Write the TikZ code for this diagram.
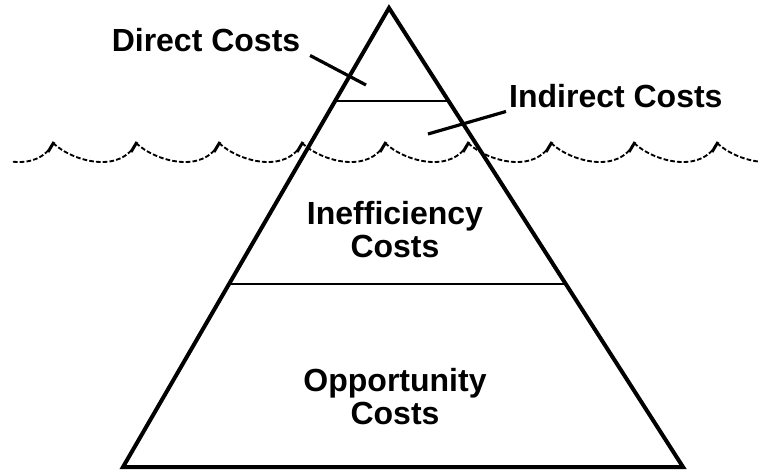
\documentclass[tikz,border=0pt]{standalone}
\usepackage{fontspec}
\setmainfont{Liberation Sans}
\usetikzlibrary{calc}

\tikzset{every picture/.style={line width=0.75pt}}
\tikzset{
  costlabel/.style={font=\fontsize{24}{24.75}\selectfont\bfseries, inner sep=2pt, align=center},
  edge/.style={line width=3pt, line join=miter},
  divider/.style={line width=1.8pt},
  leader/.style={line width=2.4pt},
  wavy/.style={line width=1.4pt, dash pattern=on 3.5pt off 1.6pt},
  crest/.style={line width=2.2pt},
}

\begin{document}
\begin{tikzpicture}[x=0.75pt,y=0.75pt,yscale=-1,xscale=1]
\useasboundingbox (0,0) rectangle (759,470);

%Iceberg outline
\coordinate (apex) at (389,8);
\coordinate (baseL) at (123,467);
\coordinate (baseR) at (683,467);
\draw [edge] (apex) -- (baseR) -- (baseL) -- cycle ;

%Layer lines
\draw [divider] ($(apex)!0.203!(baseL)$) -- ($(apex)!0.203!(baseR)$) ;
\draw [divider] ($(apex)!0.601!(baseL)$) -- ($(apex)!0.601!(baseR)$) ;

%Waterline
\begin{scope}
\clip (11,0) rectangle (759,470);
\foreach \c in {-30,53,136,219,302,385,468,551,634,717} {
  \draw [wavy] (\c,143) .. controls (\c+20,162) and (\c+68,174) .. (\c+83,143) ;
  \draw [crest] (\c+78,152) -- (\c+84,142) ;
}
\end{scope}

% Text Node
\draw (206,52) node (direct) [costlabel, anchor=base] {Direct Costs};
% Text Node
\draw (506,108) node (indirect) [costlabel, anchor=base west] {Indirect Costs};
% Text Node
\draw (395,230) node (ineff) [costlabel] {Inefficiency\\Costs};
% Text Node
\draw (395,397) node (opport) [costlabel] {Opportunity\\Costs};

%Leaders
\coordinate (directTip) at (366,85);
\coordinate (indirectTip) at (428,134);
\draw [leader] ([xshift=5pt]direct.south east) -- (directTip) ;
\draw [leader] (indirect.south west) -- (indirectTip) ;

\end{tikzpicture}
\end{document}
